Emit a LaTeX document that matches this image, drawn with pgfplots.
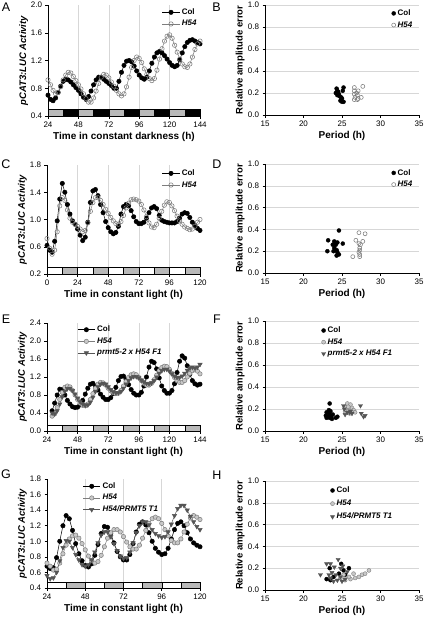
\documentclass[border=0pt]{standalone}
\usepackage{fontspec}
\setmainfont{Liberation Sans}
\usepackage{pgfplots}
\pgfplotsset{compat=1.18}
\usepackage{pgfplotstable}
\definecolor{hedge}{RGB}{125,125,125}
\definecolor{hfill}{RGB}{200,200,200}
\definecolor{tgray}{RGB}{85,85,85}
\definecolor{bargray}{RGB}{185,185,185}
\definecolor{gridc}{RGB}{215,215,215}

\pgfplotstableread{
t col h54
24 0.70 0.92
26 0.64 0.85
28 0.62 0.77
30 0.66 0.72
32 0.74 0.74
34 0.83 0.82
36 0.90 0.92
38 0.93 0.99
40 0.92 1.03
42 0.89 1.02
44 0.85 0.97
46 0.81 0.91
48 0.77 0.85
50 0.72 0.79
52 0.67 0.72
54 0.64 0.65
56 0.68 0.60
58 0.76 0.60
60 0.85 0.66
62 0.92 0.76
64 0.96 0.87
66 0.96 0.96
68 0.93 1.00
70 0.90 0.99
72 0.87 0.95
74 0.84 0.89
76 0.80 0.83
78 0.80 0.77
80 0.90 0.72
82 1.03 0.69
84 1.13 0.72
86 1.19 0.82
88 1.20 0.96
90 1.18 1.10
92 1.12 1.20
94 1.05 1.25
96 0.99 1.23
98 0.95 1.17
100 0.93 1.08
102 0.96 1.00
104 1.05 0.94
106 1.16 0.91
108 1.25 0.94
110 1.31 1.06
112 1.33 1.22
114 1.31 1.37
116 1.27 1.48
118 1.22 1.55
120 1.17 1.57
122 1.13 1.52
124 1.11 1.42
126 1.13 1.32
128 1.21 1.22
130 1.31 1.15
132 1.40 1.11
134 1.46 1.10
136 1.49 1.15
138 1.50 1.25
140 1.48 1.36
142 1.46 1.44
144 1.44 1.48
}\tA

\pgfplotstableread{
t col h54
0 0.62 0.72
2 0.55 0.58
4 0.52 0.49
6 0.68 0.55
8 0.98 0.82
10 1.30 1.20
12 1.53 1.32
14 1.40 1.28
16 1.22 1.14
18 1.08 1.02
20 0.98 0.96
22 0.93 0.93
24 0.86 0.90
26 0.77 0.86
28 0.69 0.82
30 0.74 0.84
32 0.96 0.95
34 1.25 1.12
36 1.42 1.25
38 1.44 1.32
40 1.35 1.32
42 1.22 1.28
44 1.10 1.22
46 0.97 1.15
48 0.88 1.09
50 0.82 1.03
52 0.79 0.98
54 0.81 0.94
56 0.90 0.93
58 1.08 0.97
60 1.19 1.06
62 1.22 1.17
64 1.20 1.24
66 1.13 1.29
68 1.04 1.30
70 0.97 1.29
72 0.94 1.27
74 0.94 1.22
76 0.96 1.14
78 1.02 1.04
80 1.10 0.95
82 1.17 0.89
84 1.19 0.88
86 1.16 0.93
88 1.06 1.02
90 0.99 1.12
92 0.97 1.21
94 0.96 1.26
96 0.95 1.25
98 0.95 1.20
100 0.95 1.13
102 0.97 1.05
104 1.02 0.98
106 1.08 0.93
108 1.10 0.89
110 1.09 0.87
112 1.03 0.85
114 0.96 0.86
116 0.91 0.90
118 0.87 0.96
120 0.84 1.00
}\tC

\pgfplotstableread{
t col h54 f1
28 0.45 0.33 0.40
30 0.62 0.38 0.38
32 0.80 0.52 0.45
34 0.93 0.70 0.60
36 0.92 0.86 0.76
38 0.80 0.97 0.88
40 0.68 1.00 0.94
42 0.60 0.98 0.95
44 0.54 0.90 0.90
46 0.52 0.80 0.82
48 0.53 0.70 0.73
50 0.58 0.62 0.65
52 0.68 0.57 0.60
54 0.82 0.56 0.57
56 0.95 0.60 0.58
58 1.04 0.70 0.64
60 1.06 0.83 0.75
62 1.00 0.95 0.88
64 0.91 1.04 0.98
66 0.82 1.08 1.04
68 0.75 1.07 1.06
70 0.70 1.02 1.04
72 0.70 0.95 0.98
74 0.74 0.89 0.92
76 0.83 0.85 0.87
78 0.97 0.83 0.85
80 1.12 0.84 0.85
82 1.21 0.90 0.88
84 1.22 1.00 0.95
86 1.15 1.10 1.04
88 1.03 1.19 1.12
90 0.92 1.25 1.18
92 0.84 1.27 1.21
94 0.80 1.25 1.21
96 0.80 1.19 1.18
98 0.86 1.12 1.13
100 1.00 1.06 1.09
102 1.20 1.02 1.06
104 1.42 1.02 1.05
106 1.55 1.06 1.07
108 1.52 1.14 1.12
110 1.38 1.24 1.20
112 1.18 1.34 1.28
114 1.00 1.41 1.34
116 0.90 1.44 1.37
118 0.84 1.43 1.37
120 0.84 1.37 1.33
122 0.90 1.28 1.27
124 1.05 1.19 1.22
126 1.30 1.12 1.19
128 1.55 1.08 1.19
130 1.67 1.08 1.22
132 1.62 1.12 1.28
134 1.45 1.20 1.35
136 1.26 1.28 1.40
138 1.12 1.34 1.42
140 1.05 1.36 1.40
142 1.02 1.33 1.42
144 1.04 1.27 1.48
}\tE

\pgfplotstableread{
t col h54 t1
24 0.68 0.72 0.56
26 0.65 0.68 0.52
28 0.66 0.63 0.53
30 0.79 0.64 0.60
32 1.00 0.72 0.75
34 1.20 0.84 0.92
36 1.33 0.95 1.01
38 1.29 1.03 1.00
40 1.14 1.07 0.92
42 0.97 1.08 0.83
44 0.84 1.04 0.76
46 0.75 0.97 0.70
48 0.69 0.89 0.68
50 0.67 0.81 0.70
52 0.71 0.75 0.76
54 0.82 0.72 0.86
56 0.96 0.74 0.98
58 1.10 0.82 1.08
60 1.19 0.93 1.12
62 1.18 1.04 1.12
64 1.10 1.11 1.06
66 0.98 1.15 0.97
68 0.87 1.15 0.88
70 0.80 1.12 0.81
72 0.76 1.06 0.78
74 0.76 0.99 0.79
76 0.83 0.93 0.86
78 0.97 0.90 0.98
80 1.12 0.90 1.11
82 1.22 0.95 1.20
84 1.25 1.04 1.25
86 1.21 1.14 1.25
88 1.11 1.23 1.21
90 1.00 1.29 1.15
92 0.91 1.31 1.10
94 0.86 1.29 1.07
96 0.83 1.23 1.05
98 0.84 1.15 1.06
100 0.91 1.07 1.12
102 1.03 1.01 1.22
104 1.15 0.98 1.33
106 1.23 0.98 1.42
108 1.25 1.03 1.46
110 1.20 1.12 1.46
112 1.11 1.22 1.40
114 1.03 1.30 1.32
116 0.98 1.33 1.25
118 0.95 1.31 1.19
120 0.93 1.28 1.15
}\tG

\pgfplotstableread{
p r
24.3 0.24
24.4 0.22
24.5 0.21
24.6 0.19
24.4 0.18
24.7 0.17
24.9 0.16
25.0 0.15
24.8 0.13
25.0 0.12
25.2 0.12
25.1 0.22
25.2 0.25
24.2 0.20
}\bCol
\pgfplotstableread{
p r
26.6 0.25
26.6 0.22
27.1 0.22
26.6 0.19
27.0 0.18
26.7 0.16
26.6 0.14
27.0 0.14
27.5 0.16
27.7 0.26
26.9 0.20
27.1 0.15
}\bH
\pgfplotstableread{
p r
24.6 0.39
23.2 0.30
24.0 0.29
24.4 0.28
25.1 0.27
23.8 0.26
24.2 0.26
24.0 0.23
24.3 0.21
23.1 0.20
23.9 0.20
24.4 0.19
24.6 0.17
24.3 0.16
}\dCol
\pgfplotstableread{
p r
27.2 0.37
28.0 0.36
26.8 0.30
27.7 0.29
27.2 0.27
27.4 0.26
27.3 0.23
27.3 0.21
27.2 0.19
27.3 0.17
26.4 0.15
27.3 0.15
}\dH
\pgfplotstableread{
p r
23.4 0.25
23.0 0.17
23.3 0.16
23.5 0.14
23.2 0.13
23.6 0.13
23.4 0.12
23.8 0.15
24.2 0.12
23.0 0.12
23.5 0.18
22.9 0.14
24.4 0.13
23.3 0.19
23.7 0.11
}\fCol
\pgfplotstableread{
p r
25.7 0.25
25.4 0.22
25.9 0.21
26.1 0.24
26.3 0.21
25.7 0.18
26.0 0.16
26.5 0.19
26.7 0.17
25.4 0.18
26.2 0.18
25.8 0.22
}\fH
\pgfplotstableread{
p r
27.4 0.23
27.5 0.16
28.0 0.14
27.8 0.13
25.3 0.20
25.4 0.15
25.7 0.17
26.0 0.17
26.1 0.18
25.2 0.23
26.3 0.16
}\fF
\pgfplotstableread{
p r
23.4 0.20
23.0 0.10
24.9 0.24
25.9 0.20
24.6 0.15
25.4 0.14
23.9 0.12
23.5 0.09
25.2 0.18
}\hCol
\pgfplotstableread{
p r
25.4 0.09
26.1 0.10
26.7 0.11
27.2 0.12
27.6 0.14
28.0 0.15
28.5 0.18
26.5 0.15
25.9 0.12
24.8 0.11
25.2 0.14
}\hH
\pgfplotstableread{
p r
22.2 0.14
23.0 0.24
23.5 0.24
24.0 0.21
24.5 0.28
25.1 0.22
25.7 0.17
23.7 0.16
24.2 0.14
24.8 0.12
25.4 0.10
23.5 0.11
23.9 0.08
24.4 0.09
23.3 0.14
24.8 0.20
25.0 0.08
}\hT

\pgfplotsset{
  base/.style={
    scale only axis, clip=false,
    axis x line*=bottom, axis y line*=left,
    axis line style={-, line width=0.5pt},
    tick align=outside, major tick length=2.5pt, minor tick length=0pt,
    tick style={line width=0.5pt, black},
    minor grid style={gridc, line width=0.5pt},
    ticklabel style={font=\fontsize{8}{9}\selectfont},
    /pgf/number format/assume math mode=true,
    yticklabel style={/pgf/number format/.cd, fixed, fixed zerofill, precision=1},
    xlabel style={font=\fontsize{10}{12}\selectfont\bfseries, at={(axis description cs:0.5,0)}, anchor=center, yshift=-21pt},
    legend style={draw=none, fill=none, font=\fontsize{8}{9.5}\selectfont\bfseries, inner sep=0pt, outer sep=0pt, row sep=0.5pt},
    legend cell align=left,
  },
  ts/.style={base, width=153pt, height=109pt,
    xminorgrids,
    ylabel={\textit{pCAT3:LUC Activity}},
    ylabel style={font=\fontsize{9.5}{11}\selectfont\bfseries, at={(axis description cs:-0.16,0.5)}, anchor=center},
  },
  sc/.style={base, width=154pt, height=109pt,
    xmin=15, xmax=35, ymin=0, ymax=1,
    xtick={15,20,25,30,35}, ytick={0,0.2,0.4,0.6,0.8,1.0},
    minor ytick={0.2,0.4,0.6,0.8,1.0}, yminorgrids,
    xlabel={Period (h)},
    ylabel={Relative amplitude error},
    ylabel style={font=\fontsize{9.5}{11}\selectfont\bfseries, at={(axis description cs:-0.162,0.5)}, anchor=center},
  },
  colL/.style={black, line width=0.5pt, mark=*, mark size=2.2pt},
  hoL/.style={hedge, line width=0.5pt, mark=o, mark size=2.2pt, mark options={fill=white, draw=hedge, line width=0.55pt}},
  hgL/.style={hedge, line width=0.5pt, mark=*, mark size=2.2pt, mark options={fill=hfill, draw=hedge}},
  trL/.style={tgray, line width=0.5pt, mark=triangle*, mark size=2.5pt, mark options={rotate=180, fill=tgray, draw=tgray}},
  colS/.style={only marks, mark=*, mark size=2pt, black},
  hoS/.style={only marks, mark=o, mark size=2pt, mark options={draw=hedge, fill=white, line width=0.55pt}},
  hgS/.style={only marks, mark=*, mark size=2pt, mark options={draw=hedge, fill=hfill}},
  trS/.style={only marks, mark=triangle*, mark size=2.4pt, mark options={rotate=180, fill=tgray, draw=tgray}},
}

\begin{document}
\begin{tikzpicture}
\useasboundingbox (0,0) rectangle (424pt,-619pt);
\tikzset{lett/.style={font=\fontsize{12.5}{14}\selectfont, anchor=center}}
\node[lett] at (6pt,-7.5pt) {A};
\node[lett] at (216.5pt,-7pt) {B};
\node[lett] at (6pt,-164.5pt) {C};
\node[lett] at (217pt,-164pt) {D};
\node[lett] at (6pt,-319.5pt) {E};
\node[lett] at (217pt,-319pt) {F};
\node[lett] at (6pt,-474.5pt) {G};
\node[lett] at (217pt,-475pt) {H};

% ---------- A ----------
\begin{axis}[ts, at={(48pt,-116pt)}, anchor=south west, width=152pt, height=111pt,
  xmin=24, xmax=144, ymin=0.4, ymax=2.0,
  xtick={24,48,72,96,120,144}, minor xtick={48,72,96,120},
  ytick={0.4,0.8,1.2,1.6,2.0},
  xlabel={Time in constant darkness (h)},
  legend style={at={(0.99,0.985)}, anchor=north east}]
\draw[fill=bargray, line width=0.4pt] (axis cs:24,0.4) rectangle (axis cs:36,0.5);
\draw[fill=black] (axis cs:36,0.4) rectangle (axis cs:48,0.5);
\draw[fill=bargray, line width=0.4pt] (axis cs:48,0.4) rectangle (axis cs:60,0.5);
\draw[fill=black] (axis cs:60,0.4) rectangle (axis cs:72,0.5);
\draw[fill=bargray, line width=0.4pt] (axis cs:72,0.4) rectangle (axis cs:84,0.5);
\draw[fill=black] (axis cs:84,0.4) rectangle (axis cs:96,0.5);
\draw[fill=bargray, line width=0.4pt] (axis cs:96,0.4) rectangle (axis cs:108,0.5);
\draw[fill=black] (axis cs:108,0.4) rectangle (axis cs:120,0.5);
\draw[fill=bargray, line width=0.4pt] (axis cs:120,0.4) rectangle (axis cs:132,0.5);
\draw[fill=black] (axis cs:132,0.4) rectangle (axis cs:144,0.5);
\addplot[colL] table[x=t, y=col] {\tA};
\addlegendentry{Col}
\addplot[hoL] table[x=t, y=h54] {\tA};
\addlegendentry{\textit{H54}}
\end{axis}

% ---------- B ----------
\begin{axis}[sc, at={(265pt,-115pt)}, anchor=south west, height=110pt,
  legend style={at={(0.97,0.975)}, anchor=north east}]
\addplot[colS] table[x=p, y=r] {\bCol};
\addlegendentry{Col}
\addplot[hoS] table[x=p, y=r] {\bH};
\addlegendentry{\textit{H54}}
\end{axis}

% ---------- C ----------
\begin{axis}[ts, at={(47pt,-274pt)}, anchor=south west,
  xmin=0, xmax=120, ymin=0.2, ymax=1.8,
  xtick={0,24,48,72,96,120}, minor xtick={24,48,72,96},
  ytick={0.2,0.6,1.0,1.4,1.8},
  xlabel={Time in constant light (h)},
  legend style={at={(0.99,0.975)}, anchor=north east}]
\draw[fill=white, line width=0.4pt] (axis cs:0,0.2) rectangle (axis cs:12,0.3);
\draw[fill=bargray, line width=0.4pt] (axis cs:12,0.2) rectangle (axis cs:24,0.3);
\draw[fill=white, line width=0.4pt] (axis cs:24,0.2) rectangle (axis cs:36,0.3);
\draw[fill=bargray, line width=0.4pt] (axis cs:36,0.2) rectangle (axis cs:48,0.3);
\draw[fill=white, line width=0.4pt] (axis cs:48,0.2) rectangle (axis cs:60,0.3);
\draw[fill=bargray, line width=0.4pt] (axis cs:60,0.2) rectangle (axis cs:72,0.3);
\draw[fill=white, line width=0.4pt] (axis cs:72,0.2) rectangle (axis cs:84,0.3);
\draw[fill=bargray, line width=0.4pt] (axis cs:84,0.2) rectangle (axis cs:96,0.3);
\draw[fill=white, line width=0.4pt] (axis cs:96,0.2) rectangle (axis cs:108,0.3);
\draw[fill=bargray, line width=0.4pt] (axis cs:108,0.2) rectangle (axis cs:120,0.3);
\addplot[colL] table[x=t, y=col] {\tC};
\addlegendentry{Col}
\addplot[hoL] table[x=t, y=h54] {\tC};
\addlegendentry{\textit{H54}}
\end{axis}

% ---------- D ----------
\begin{axis}[sc, at={(265pt,-273pt)}, anchor=south west,
  legend style={at={(0.97,0.97)}, anchor=north east}]
\addplot[colS] table[x=p, y=r] {\dCol};
\addlegendentry{Col}
\addplot[hoS] table[x=p, y=r] {\dH};
\addlegendentry{\textit{H54}}
\end{axis}

% ---------- E ----------
\begin{axis}[ts, at={(47pt,-431pt)}, anchor=south west, height=108pt,
  xmin=24, xmax=144, ymin=0, ymax=2.4,
  xtick={24,48,72,96,120,144}, minor xtick={48,72,96,120},
  ytick={0,0.4,0.8,1.2,1.6,2.0,2.4},
  xlabel={Time in constant light (h)},
  legend style={at={(0.2,0.99)}, anchor=north west}]
\draw[fill=white, line width=0.4pt] (axis cs:24,0) rectangle (axis cs:36,0.13);
\draw[fill=bargray, line width=0.4pt] (axis cs:36,0) rectangle (axis cs:48,0.13);
\draw[fill=white, line width=0.4pt] (axis cs:48,0) rectangle (axis cs:60,0.13);
\draw[fill=bargray, line width=0.4pt] (axis cs:60,0) rectangle (axis cs:72,0.13);
\draw[fill=white, line width=0.4pt] (axis cs:72,0) rectangle (axis cs:84,0.13);
\draw[fill=bargray, line width=0.4pt] (axis cs:84,0) rectangle (axis cs:96,0.13);
\draw[fill=white, line width=0.4pt] (axis cs:96,0) rectangle (axis cs:108,0.13);
\draw[fill=bargray, line width=0.4pt] (axis cs:108,0) rectangle (axis cs:120,0.13);
\draw[fill=white, line width=0.4pt] (axis cs:120,0) rectangle (axis cs:132,0.13);
\draw[fill=bargray, line width=0.4pt] (axis cs:132,0) rectangle (axis cs:144,0.13);
\addplot[colL] table[x=t, y=col] {\tE};
\addlegendentry{Col}
\addplot[hgL] table[x=t, y=h54] {\tE};
\addlegendentry{\textit{H54}}
\addplot[trL] table[x=t, y=f1] {\tE};
\addlegendentry{\textit{prmt5-2 x H54 F1}}
\end{axis}

% ---------- F ----------
\begin{axis}[sc, at={(265pt,-431pt)}, anchor=south west, height=110pt,
  legend style={at={(0.367,0.965)}, anchor=north west}]
\addplot[colS] table[x=p, y=r] {\fCol};
\addlegendentry{Col}
\addplot[hgS] table[x=p, y=r] {\fH};
\addlegendentry{\textit{H54}}
\addplot[trS] table[x=p, y=r] {\fF};
\addlegendentry{\textit{prmt5-2 x H54 F1}}
\end{axis}

% ---------- G ----------
\begin{axis}[ts, at={(47pt,-588pt)}, anchor=south west,
  xmin=24, xmax=120, ymin=0.4, ymax=1.8,
  xtick={24,48,72,96,120}, minor xtick={48,72,96},
  ytick={0.4,0.6,0.8,1.0,1.2,1.4,1.6,1.8},
  xlabel={Time in constant light (h)},
  legend style={at={(0.235,0.985)}, anchor=north west}]
\draw[fill=white, line width=0.4pt] (axis cs:24,0.4) rectangle (axis cs:36,0.475);
\draw[fill=bargray, line width=0.4pt] (axis cs:36,0.4) rectangle (axis cs:48,0.475);
\draw[fill=white, line width=0.4pt] (axis cs:48,0.4) rectangle (axis cs:60,0.475);
\draw[fill=bargray, line width=0.4pt] (axis cs:60,0.4) rectangle (axis cs:72,0.475);
\draw[fill=white, line width=0.4pt] (axis cs:72,0.4) rectangle (axis cs:84,0.475);
\draw[fill=bargray, line width=0.4pt] (axis cs:84,0.4) rectangle (axis cs:96,0.475);
\draw[fill=white, line width=0.4pt] (axis cs:96,0.4) rectangle (axis cs:108,0.475);
\draw[fill=bargray, line width=0.4pt] (axis cs:108,0.4) rectangle (axis cs:120,0.475);
\addplot[colL] table[x=t, y=col] {\tG};
\addlegendentry{Col}
\addplot[hgL] table[x=t, y=h54] {\tG};
\addlegendentry{\textit{H54}}
\addplot[trL] table[x=t, y=t1] {\tG};
\addlegendentry{\textit{H54/PRMT5 T1}}
\end{axis}

% ---------- H ----------
\begin{axis}[sc, at={(265pt,-590pt)}, anchor=south west,
  legend style={at={(0.425,0.965)}, anchor=north west, row sep=2pt}]
\addplot[colS] table[x=p, y=r] {\hCol};
\addlegendentry{Col}
\addplot[hgS] table[x=p, y=r] {\hH};
\addlegendentry{\textit{H54}}
\addplot[trS] table[x=p, y=r] {\hT};
\addlegendentry{\textit{H54/PRMT5 T1}}
\end{axis}
\end{tikzpicture}
\end{document}
